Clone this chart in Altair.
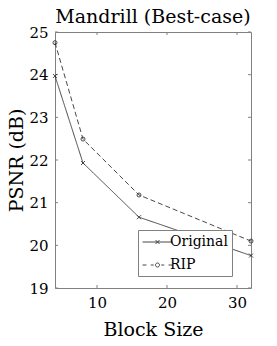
import altair as alt
import pandas as pd

block_size = [4, 8, 16, 32]
original = [23.97, 21.93, 20.66, 19.76]
rip = [24.75, 22.49, 21.18, 20.10]
series_names = ["Original", "RIP"]
x_ticks = [10, 20, 30]
y_ticks = [19, 20, 21, 22, 23, 24, 25]

FONT = "DejaVu Serif, serif"
LINE = "#333333"
FRAME = "#808080"

rows = []
for b, o, r in zip(block_size, original, rip):
    rows.append({"block": b, "psnr": o, "series": "Original"})
    rows.append({"block": b, "psnr": r, "series": "RIP"})
df = pd.DataFrame(rows)

W, H = 196, 256
xs = alt.Scale(domain=[4, 32], nice=False, zero=False)
ys = alt.Scale(domain=[19, 25], nice=False, zero=False)

xenc = alt.X("block:Q", scale=xs,
             axis=alt.Axis(values=x_ticks, title="Block Size", ticks=False,
                           domain=False, grid=False, labelPadding=7,
                           titlePadding=10, labelFont=FONT, titleFont=FONT,
                           titleFontSize=19, titleFontWeight="normal"))
yenc = alt.Y("psnr:Q", scale=ys,
             axis=alt.Axis(values=y_ticks, title="PSNR (dB)", ticks=False,
                           domain=False, grid=False, labelPadding=7,
                           titlePadding=2, labelFont=FONT, titleFont=FONT,
                           titleFontSize=19, titleFontWeight="normal"))

base = alt.Chart(df)

lines = base.mark_line(color=LINE, strokeWidth=0.9).encode(
    x=xenc, y=yenc,
    strokeDash=alt.StrokeDash("series:N",
                              scale=alt.Scale(domain=series_names, range=[[1, 0], [5, 3]]),
                              legend=None),
    detail="series:N",
)

cross_path = "M-1,-1L1,1M-1,1L1,-1"
points = base.mark_point(filled=False, color=LINE, strokeWidth=0.9, size=16, opacity=1).encode(
    x="block:Q", y="psnr:Q",
    shape=alt.Shape("series:N",
                    scale=alt.Scale(domain=series_names, range=[cross_path, "circle"]),
                    legend=None),
)

leg_orig = ("M-1,0L3,0"
            "M0.73,-0.27L1.27,0.27M0.73,0.27L1.27,-0.27")
leg_rip = ("M-1,0L-0.47,0M0.1,0L0.5,0"
           "M1.27,0A0.27,0.27 0 1,1 0.73,0A0.27,0.27 0 1,1 1.27,0"
           "M1.5,0L1.9,0M2.47,0L3,0")

legend_layer = base.transform_filter("datum.block < 0").mark_point(
    filled=False, color=LINE, strokeWidth=0.9, opacity=1
).encode(
    x="block:Q", y="psnr:Q",
    shape=alt.Shape("series:N",
                    scale=alt.Scale(domain=series_names, range=[leg_orig, leg_rip]),
                    legend=alt.Legend(title=None, orient="none", legendX=83, legendY=198,
                                      symbolSize=225, symbolStrokeColor=LINE,
                                      symbolStrokeWidth=0.9, symbolFillColor="transparent",
                                      labelOffset=12, labelFont=FONT, labelFontSize=14,
                                      labelColor="black", fillColor="white",
                                      strokeColor=FRAME, padding=4, rowPadding=8,
                                      labelLimit=200)),
)

xt = pd.DataFrame({"v": x_ticks})
yt = pd.DataFrame({"v": y_ticks})
tick_style = dict(color=FRAME, strokeWidth=1)
xt_bottom = alt.Chart(xt).mark_rule(**tick_style).encode(
    x=alt.X("v:Q", scale=xs), y=alt.value(H), y2=alt.value(H - 3))
xt_top = alt.Chart(xt).mark_rule(**tick_style).encode(
    x=alt.X("v:Q", scale=xs), y=alt.value(0), y2=alt.value(3))
yt_left = alt.Chart(yt).mark_rule(**tick_style).encode(
    y=alt.Y("v:Q", scale=ys), x=alt.value(0), x2=alt.value(3))
yt_right = alt.Chart(yt).mark_rule(**tick_style).encode(
    y=alt.Y("v:Q", scale=ys), x=alt.value(W), x2=alt.value(W - 3))

chart = alt.layer(
    xt_bottom, xt_top, yt_left, yt_right, lines, points, legend_layer
).resolve_scale(shape="independent").properties(
    width=W, height=H,
    title=alt.TitleParams("Mandrill (Best-case)", font=FONT, fontSize=19,
                          fontWeight="normal", color="black", offset=-2),
    autosize=alt.AutoSizeParams(type="none"),
    padding={"left": 47, "top": 24, "right": 18, "bottom": 56},
).configure(
    font=FONT
).configure_view(
    stroke=FRAME, strokeWidth=1
).configure_axis(
    labelFont=FONT, labelFontSize=15, labelColor="black",
    titleFont=FONT, titleFontSize=19, titleFontWeight="normal", titleColor="black",
).configure_legend(
    labelFont=FONT
)

chart.save("out.html", embed_options={"renderer": "svg", "actions": False})
